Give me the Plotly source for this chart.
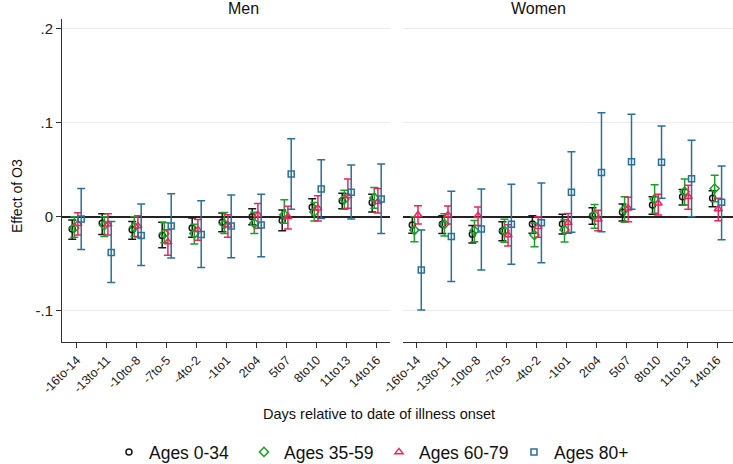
import plotly.graph_objects as go

categories = ["-16to-14", "-13to-11", "-10to-8", "-7to-5", "-4to-2", "-1to1",
              "2to4", "5to7", "8to10", "11to13", "14to16"]
series_names = ["Ages 0-34", "Ages 35-59", "Ages 60-79", "Ages 80+"]
panels = ["Men", "Women"]
y_ticks = [-0.1, 0, 0.1, 0.2]
y_tick_labels = ["-.1", "0", ".1", ".2"]

# ---- Men ----
men_0_34_est = [-0.013, -0.007, -0.014, -0.020, -0.012, -0.006, 0.000, -0.004, 0.010, 0.017, 0.015]
men_0_34_lo = [-0.024, -0.019, -0.024, -0.033, -0.022, -0.016, -0.0085, -0.015, 0.000, 0.0085, 0.005]
men_0_34_hi = [-0.0035, 0.003, -0.005, -0.006, -0.0014, 0.004, 0.0085, 0.007, 0.019, 0.025, 0.024]

men_35_59_est = [-0.012, -0.009, -0.011, -0.018, -0.018, -0.008, -0.007, 0.002, 0.005, 0.0185, 0.020]
men_35_59_lo = [-0.022, -0.021, -0.021, -0.0276, -0.029, -0.018, -0.018, -0.007, -0.0046, 0.008, 0.009]
men_35_59_hi = [0.000, 0.000, 0.000, -0.0064, -0.008, 0.0045, 0.0047, 0.018, 0.015, 0.028, 0.031]

men_60_79_est = [-0.0074, -0.008, -0.010, -0.027, -0.014, -0.009, 0.002, 0.000, 0.009, 0.022, 0.016]
men_60_79_lo = [-0.0195, -0.0195, -0.0216, -0.041, -0.025, -0.022, -0.0124, -0.013, -0.0046, 0.009, 0.004]
men_60_79_hi = [0.0043, 0.003, 0.001, -0.014, -0.003, 0.002, 0.014, 0.011, 0.0223, 0.040, 0.030]

men_80_est = [-0.0025, -0.038, -0.020, -0.010, -0.019, -0.010, -0.0088, 0.0454, 0.0295, 0.026, 0.0188]
men_80_lo = [-0.035, -0.070, -0.052, -0.044, -0.054, -0.0436, -0.0425, 0.0079, -0.0018, -0.0025, -0.018]
men_80_hi = [0.030, -0.005, 0.0135, 0.0245, 0.017, 0.023, 0.024, 0.083, 0.0607, 0.055, 0.056]

# ---- Women ----
women_0_34_est = [-0.0088, -0.008, -0.0188, -0.0152, -0.0078, -0.0078, 0.0007, 0.0047, 0.0124, 0.0213, 0.0196]
women_0_34_lo = [-0.0177, -0.018, -0.028, -0.0255, -0.0177, -0.0184, -0.0081, -0.0046, 0.0025, 0.0124, 0.0106]
women_0_34_hi = [-0.0007, 0.001, -0.0095, -0.0053, 0.001, 0.0025, 0.0096, 0.0135, 0.0213, 0.029, 0.0277]

women_35_59_est = [-0.0142, -0.0078, -0.015, -0.015, -0.0195, -0.014, 0.0018, 0.0079, 0.0188, 0.0266, 0.030]
women_35_59_lo = [-0.0266, -0.0205, -0.0266, -0.0273, -0.032, -0.027, -0.0124, -0.006, 0.0036, 0.0124, 0.016]
women_35_59_hi = [0.000, 0.003, -0.004, -0.0028, -0.007, -0.003, 0.013, 0.0213, 0.034, 0.040, 0.044]

women_60_79_est = [0.0018, 0.0018, 0.001, -0.0195, -0.0106, -0.0064, -0.0028, 0.009, 0.0142, 0.0213, 0.0082]
women_60_79_lo = [-0.0078, -0.0078, -0.0095, -0.0312, -0.022, -0.0177, -0.015, -0.0053, 0.0018, 0.0079, -0.0042]
women_60_79_hi = [0.0117, 0.0114, 0.0103, -0.0085, 0.000, 0.0035, 0.0068, 0.0206, 0.0238, 0.0334, 0.0196]

women_80_est = [-0.0567, -0.021, -0.013, -0.0081, -0.0064, 0.026, 0.047, 0.0585, 0.058, 0.0404, 0.0153]
women_80_lo = [-0.0993, -0.069, -0.0567, -0.0507, -0.049, -0.0166, -0.016, 0.0079, 0.0195, 0.000, -0.0245]
women_80_hi = [-0.0142, 0.027, 0.0295, 0.0344, 0.0358, 0.069, 0.1106, 0.109, 0.0965, 0.0813, 0.054]

men_data = [(men_0_34_est, men_0_34_lo, men_0_34_hi),
            (men_35_59_est, men_35_59_lo, men_35_59_hi),
            (men_60_79_est, men_60_79_lo, men_60_79_hi),
            (men_80_est, men_80_lo, men_80_hi)]
women_data = [(women_0_34_est, women_0_34_lo, women_0_34_hi),
              (women_35_59_est, women_35_59_lo, women_35_59_hi),
              (women_60_79_est, women_60_79_lo, women_60_79_hi),
              (women_80_est, women_80_lo, women_80_hi)]

# ---- styles ----
colors = ["#1a1a1a", "#1e9e28", "#f0245a", "#2a7199"]
symbols = ["circle-open", "diamond-open", "triangle-up-open", "square-open"]
msizes = [6, 7, 7, 6]
offsets = [-0.15, -0.08, 0.04, 0.15]
FONT = "Liberation Sans, Arial, sans-serif"

fig = go.Figure()
xpos = list(range(1, len(categories) + 1))
for p, (pdata, xa, ya) in enumerate([(men_data, "x", "y"), (women_data, "x2", "y2")]):
    for i, (est, lo, hi) in enumerate(pdata):
        fig.add_trace(go.Scatter(
            x=[v + offsets[i] for v in xpos], y=est, xaxis=xa, yaxis=ya,
            mode="markers", name=series_names[i], showlegend=(p == 0),
            legendgroup=series_names[i],
            marker=dict(symbol=symbols[i], size=msizes[i], color=colors[i],
                        line=dict(width=1.5, color=colors[i])),
            error_y=dict(type="data", symmetric=False,
                         array=[h - e for h, e in zip(hi, est)],
                         arrayminus=[e - l for e, l in zip(est, lo)],
                         color=colors[i], thickness=1.5, width=4),
        ))

yrange = [-0.1333, 0.2103]
common_x = dict(tickmode="array", tickvals=xpos, ticktext=categories, tickangle=-45,
                ticks="outside", ticklen=5, tickcolor="#333", showline=True,
                linecolor="#333", linewidth=1, showgrid=False, zeroline=False,
                automargin=False,
                tickfont=dict(family=FONT, size=12.5, color="#222"))
common_y = dict(range=yrange, tickmode="array", tickvals=y_ticks, ticktext=y_tick_labels,
                showgrid=True, gridcolor="#ececec", gridwidth=1, automargin=False,
                zeroline=True, zerolinecolor="#222", zerolinewidth=1.5)

fig.update_layout(
    width=733, height=464, plot_bgcolor="white", paper_bgcolor="white",
    margin=dict(l=62, r=0, t=19, b=122, autoexpand=False),
    font=dict(family=FONT, color="#111"),
    xaxis=dict(domain=[0, 0.4888], range=[0.51, 11.443], **common_x),
    xaxis2=dict(domain=[0.5077, 1], range=[0.53, 11.53], **common_x),
    yaxis=dict(showline=True, linecolor="#333", linewidth=1, ticks="outside", ticklen=5,
               tickcolor="#333", tickfont=dict(family=FONT, size=15, color="#222"), **common_y),
    yaxis2=dict(anchor="x2", showticklabels=False, showline=False, ticks="", **common_y),
    legend=dict(orientation="h", x=0.07, xanchor="left", y=-0.3406, yanchor="middle",
                entrywidth=90, entrywidthmode="pixels",
                font=dict(family=FONT, size=17.5, color="#111"), itemclick=False),
    annotations=[
        dict(text="Men", x=0.2444, y=1.031, xref="paper", yref="paper", showarrow=False,
             font=dict(family=FONT, size=16, color="#111"), yanchor="middle"),
        dict(text="Women", x=0.754, y=1.031, xref="paper", yref="paper", showarrow=False,
             font=dict(family=FONT, size=16, color="#111"), yanchor="middle"),
        dict(text="Days relative to date of illness onset", x=(379 - 62) / 671, y=-0.223,
             xref="paper", yref="paper", showarrow=False, yanchor="middle",
             font=dict(family=FONT, size=14.5, color="#111")),
        dict(text="Effect of O3", x=-(62 - 17) / 671, y=(342 - 196) / 323, xref="paper",
             yref="paper", showarrow=False, textangle=-90, xanchor="center", yanchor="middle",
             font=dict(family=FONT, size=14, color="#111")),
    ],
)

fig.write_html("out.html", config={"displayModeBar": False},
               post_script="document.body.style.margin='0';")
